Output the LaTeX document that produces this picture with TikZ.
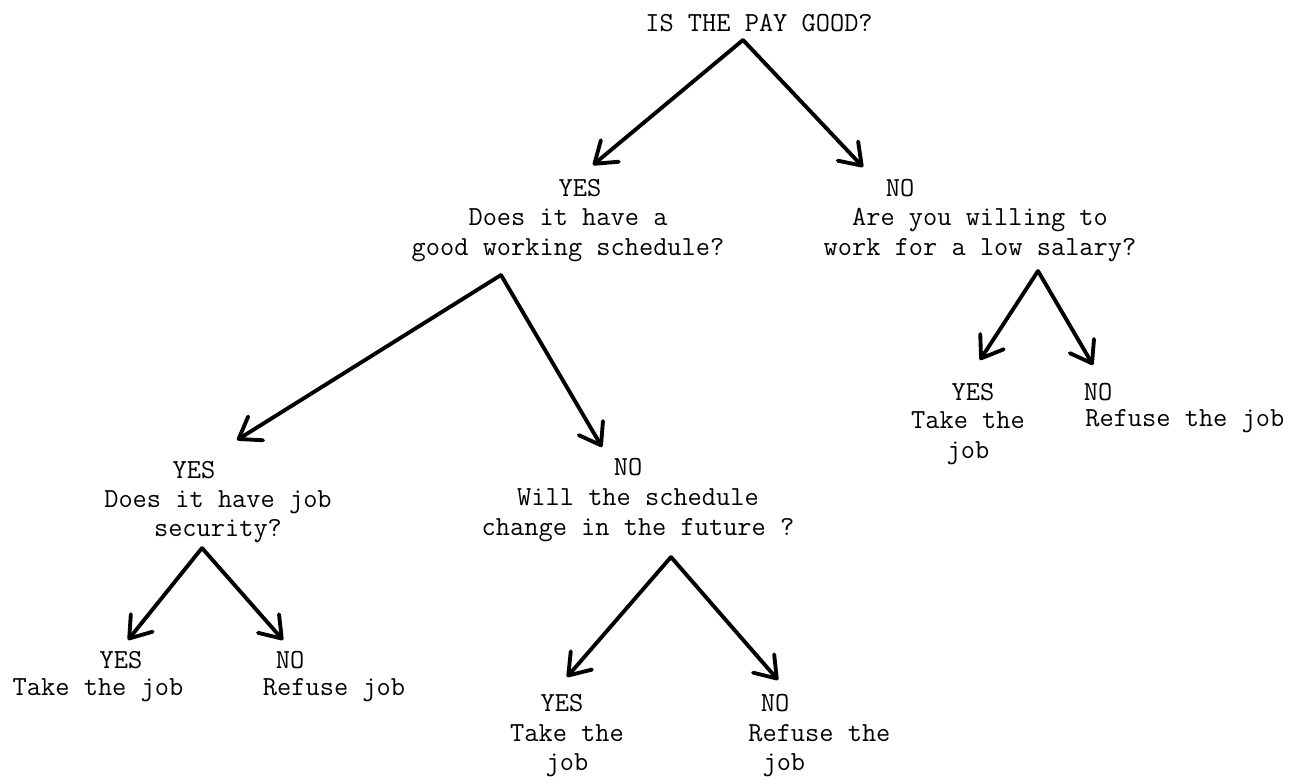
\documentclass[tikz,border=0pt]{standalone}
\usepackage{fontspec}
\usetikzlibrary{arrows.meta}
\begin{document}
\begin{tikzpicture}
    [answer/.style={font=\ttfamily\fontsize{15.7}{16.8}\selectfont,inner sep=0pt},
    question/.style={answer,align=center},
    pointer/.style={-{Straight Barb[length=4mm,width=5.6mm,round]},line width=2.2pt,line cap=round,line join=round}]

    %\draw[help lines] (0,0) grid (26,-15.58);
    \useasboundingbox (0,0) rectangle (26,-15.58);

    \node[answer] (root) at (15.18,-0.46) {IS THE PAY GOOD?};

    \node[answer] (yesA) at (11.60,-3.76) {YES};
    \node[question] (schedQ) at (11.36,-4.70) {Does it have a\\good working schedule?};
    \node[answer] (noA) at (18.00,-3.76) {NO};
    \node[question] (salaryQ) at (19.60,-4.70) {Are you willing to\\work for a low salary?};

    \node[answer] (yesB) at (3.88,-9.40) {YES};
    \node[question] (securQ) at (4.36,-10.33) {Does it have job\\security?};
    \node[answer] (noB) at (12.56,-9.34) {NO};
    \node[question] (futureQ) at (12.76,-10.30) {Will the schedule\\change in the future ?};

    \node[answer] (yesC) at (2.42,-13.20) {YES};
    \node[answer] (takeC) at (1.96,-13.80) {Take the job};
    \node[answer] (noC) at (5.80,-13.20) {NO};
    \node[answer] (refuseC) at (6.68,-13.80) {Refuse job};

    \node[answer] (yesD) at (11.24,-14.06) {YES};
    \node[question] (takeD) at (11.34,-15.01) {Take the\\job};
    \node[answer] (noD) at (15.50,-14.06) {NO};
    \node[answer,align=left,anchor=west] (refuseD) at (14.96,-15.01) {Refuse the\\\ job};

    \node[answer] (yesE) at (19.46,-7.84) {YES};
    \node[question] (takeE) at (19.36,-8.76) {Take the\\job};
    \node[answer] (noE) at (21.96,-7.84) {NO};
    \node[answer,anchor=west] (refuseE) at (21.70,-8.42) {Refuse the job};

    % forks and arrow ends
    \coordinate (payFork) at (14.86,-0.80);
    \coordinate (payYes) at (11.86,-3.30);
    \coordinate (payNo) at (17.26,-3.34);
    \coordinate (schedFork) at (10.02,-5.50);
    \coordinate (schedYes) at (4.74,-8.80);
    \coordinate (schedNo) at (12.04,-8.94);
    \coordinate (salaryFork) at (20.76,-5.42);
    \coordinate (salaryYes) at (19.60,-7.20);
    \coordinate (salaryNo) at (21.86,-7.30);
    \coordinate (securFork) at (4.04,-10.96);
    \coordinate (securYes) at (2.56,-12.80);
    \coordinate (securNo) at (5.66,-12.80);
    \coordinate (futureFork) at (13.42,-11.14);
    \coordinate (futureYes) at (11.34,-13.54);
    \coordinate (futureNo) at (15.56,-13.60);

    \draw[pointer] (payFork) -- (payYes);
    \draw[pointer] (payFork) -- (payNo);
    \draw[pointer] (schedFork) -- (schedYes);
    \draw[pointer] (schedFork) -- (schedNo);
    \draw[pointer] (salaryFork) -- (salaryYes);
    \draw[pointer] (salaryFork) -- (salaryNo);
    \draw[pointer] (securFork) -- (securYes);
    \draw[pointer] (securFork) -- (securNo);
    \draw[pointer] (futureFork) -- (futureYes);
    \draw[pointer] (futureFork) -- (futureNo);
\end{tikzpicture}
\end{document}
